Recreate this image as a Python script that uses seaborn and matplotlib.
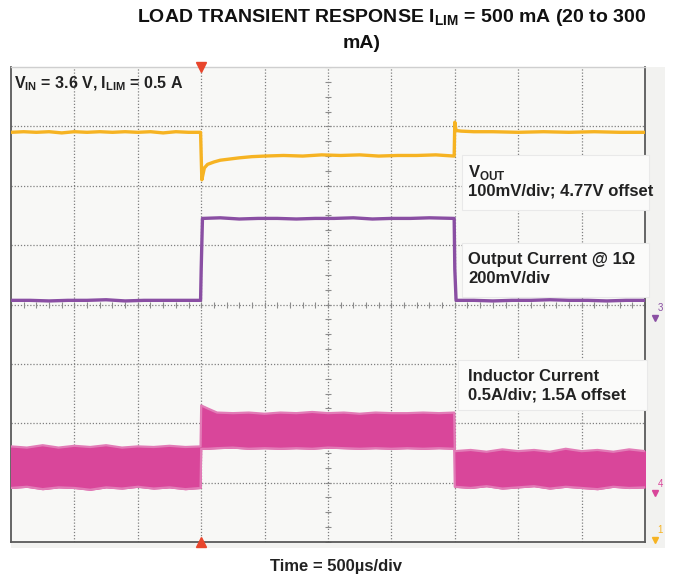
import numpy as np
import seaborn as sns
from matplotlib import pyplot as plt
from matplotlib.patches import Rectangle

sns.set_theme(style='white')
plt.rcParams['font.family'] = ['Liberation Sans', 'DejaVu Sans']
plt.rcParams['mathtext.fontset'] = 'custom'
plt.rcParams['mathtext.bf'] = 'Liberation Sans:bold'
plt.rcParams['mathtext.rm'] = 'Liberation Sans:bold'

# time axis in divisions (500 us/div), vertical in divisions
vout_x = [0, 0.2, 0.4, 0.6, 0.8, 1.0, 1.2, 1.4, 1.6, 1.8, 2.0, 2.2, 2.4, 2.6, 2.8, 2.99,
          3.01, 3.05, 3.1, 3.2, 3.3, 3.45, 3.6, 3.8, 4.0, 4.3, 4.6, 4.9, 5.2, 5.5, 5.8,
          6.1, 6.4, 6.7, 6.99, 7.0, 7.02, 7.1, 7.3, 7.6, 8.0, 8.4, 8.8, 9.2, 9.6, 10.0]
vout_y = [6.90, 6.91, 6.90, 6.91, 6.89, 6.91, 6.90, 6.91, 6.90, 6.91, 6.90, 6.91, 6.89, 6.91, 6.90, 6.90,
          6.10, 6.30, 6.36, 6.40, 6.43, 6.45, 6.47, 6.49, 6.50, 6.51, 6.50, 6.52, 6.51, 6.52, 6.50,
          6.51, 6.51, 6.52, 6.50, 7.07, 6.93, 6.92, 6.91, 6.91, 6.90, 6.91, 6.90, 6.91, 6.90, 6.90]

iout_x = [0, 0.3, 0.6, 0.9, 1.2, 1.5, 1.8, 2.1, 2.4, 2.7, 2.99, 3.0, 3.02, 3.3, 3.6, 3.9,
          4.2, 4.5, 4.8, 5.1, 5.4, 5.7, 6.0, 6.3, 6.6, 6.99, 7.0, 7.02, 7.3, 7.6, 7.9, 8.2,
          8.5, 8.8, 9.1, 9.4, 9.7, 10.0]
iout_y = [4.07, 4.07, 4.06, 4.07, 4.07, 4.08, 4.06, 4.07, 4.07, 4.07, 4.07, 4.60, 5.45, 5.46, 5.44, 5.45,
          5.45, 5.44, 5.45, 5.45, 5.46, 5.44, 5.45, 5.45, 5.46, 5.45, 4.60, 4.07, 4.07, 4.06, 4.07, 4.07,
          4.08, 4.07, 4.07, 4.06, 4.07, 4.07]

ind_x = [0, 0.25, 0.5, 0.75, 1.0, 1.25, 1.5, 1.75, 2.0, 2.25, 2.5, 2.75, 2.99,
         3.0, 3.1, 3.25, 3.5, 3.75, 4.0, 4.25, 4.5, 4.75, 5.0, 5.25, 5.5, 5.75, 6.0, 6.25, 6.5, 6.75, 6.99,
         7.0, 7.25, 7.5, 7.75, 8.0, 8.25, 8.5, 8.75, 9.0, 9.25, 9.5, 9.75, 10.0]
ind_hi = [1.61, 1.59, 1.63, 1.59, 1.62, 1.60, 1.63, 1.59, 1.61, 1.60, 1.62, 1.60, 1.61,
          2.30, 2.25, 2.18, 2.17, 2.18, 2.16, 2.18, 2.17, 2.19, 2.17, 2.18, 2.16, 2.18, 2.17, 2.17, 2.18, 2.17, 2.18,
          1.53, 1.55, 1.52, 1.56, 1.53, 1.55, 1.52, 1.57, 1.53, 1.55, 1.52, 1.56, 1.53]
ind_lo = [0.91, 0.93, 0.89, 0.92, 0.91, 0.88, 0.92, 0.90, 0.93, 0.90, 0.92, 0.89, 0.91,
          1.57, 1.57, 1.58, 1.59, 1.57, 1.58, 1.57, 1.58, 1.57, 1.59, 1.58, 1.57, 1.58, 1.57, 1.58, 1.57, 1.58, 1.57,
          0.93, 0.91, 0.94, 0.90, 0.92, 0.94, 0.90, 0.93, 0.91, 0.89, 0.93, 0.91, 0.92]

trigger_x = 3.0
yellow = '#f6b322'
purple = '#8a4fa3'
pink = '#d9469a'
bg = '#f8f8f6'

fig = plt.figure(figsize=(6.74, 5.79), dpi=100)
# light scope frame behind the screen
frame = fig.add_axes([11 / 674, 31 / 579, 654 / 674, 481 / 579])
frame.set_facecolor('#f2f2f0')
frame.set_xticks([])
frame.set_yticks([])
for s in frame.spines.values():
    s.set_visible(False)
frame.set_zorder(0)

ax = fig.add_axes([11 / 674, 37 / 579, 634 / 674, 475 / 579])
ax.set_zorder(1)
ax.set_facecolor(bg)
ax.set_xlim(0, 10)
ax.set_ylim(0, 8)
ax.set_xticks([])
ax.set_yticks([])
for s in ['left', 'bottom', 'right']:
    ax.spines[s].set_color('#5a5a5a')
    ax.spines[s].set_linewidth(1.3)
ax.spines['top'].set_color('#cfcfcf')
ax.spines['top'].set_linewidth(1.0)

# graticule
for gx in range(1, 10):
    ax.axvline(gx, color='#7f7f7f', lw=0.9, ls=(0, (1, 1.5)), zorder=1)
for gy in range(1, 8):
    ax.axhline(gy, color='#7f7f7f', lw=0.9, ls=(0, (1, 1.5)), zorder=1)
tx = np.arange(0, 10.01, 0.2)
ax.plot(tx, np.full_like(tx, 4.0), ls='none', marker='|', ms=5, mew=0.8, color='#8c8c8c', zorder=1)
ty = np.arange(0, 8.01, 0.25)
ax.plot(np.full_like(ty, 5.0), ty, ls='none', marker='_', ms=5, mew=0.8, color='#8c8c8c', zorder=1)

# annotation boxes
for (bx0, bx1, by0, by1) in [(7.11, 10.07, 5.59, 6.52), (7.11, 10.07, 4.12, 5.03), (7.05, 10.03, 2.22, 3.06)]:
    ax.add_patch(Rectangle((bx0, by0), bx1 - bx0, by1 - by0, facecolor='#fbfbfa',
                           edgecolor='#e9e9e9', lw=0.8, zorder=3, clip_on=False))

# traces
ax.fill_between(ind_x, ind_lo, ind_hi, color=pink, lw=0.8, zorder=4)
sns.lineplot(x=ind_x, y=ind_hi, color='#e27cb7', lw=1.6, ax=ax, zorder=4)
sns.lineplot(x=ind_x, y=ind_lo, color='#e27cb7', lw=1.6, ax=ax, zorder=4)
sns.lineplot(x=iout_x, y=iout_y, color=purple, lw=2.4, ax=ax, zorder=5)
sns.lineplot(x=vout_x, y=vout_y, color=yellow, lw=2.4, ax=ax, zorder=5)

# trigger markers
ax.plot([trigger_x], [8.0], marker='v', ms=7, color='#e8452c', clip_on=False, zorder=6)
ax.plot([trigger_x], [0.0], marker='^', ms=7, color='#e8452c', clip_on=False, zorder=6)

# channel markers on the right
for cy, cc, lab in [(3.86, purple, '3'), (0.9, pink, '4'), (0.12, yellow, '1')]:
    ax.plot([10.16], [cy - 0.08], marker='v', ms=5, color=cc, clip_on=False, zorder=6)
    ax.text(10.2, cy + 0.08, lab, color=cc, fontsize=7, ha='left', va='center', zorder=6)

# labels
txt = dict(fontsize=12, fontweight='bold', color='#222222', ha='left', va='center', zorder=7)
ax.text(0.05, 7.71, r'V$_{\mathbf{IN}}$ = 3.6 V, I$_{\mathbf{LIM}}$ = 0.5 A',
        **{**txt, 'fontsize': 11.5})
ax.text(7.21, 6.23, r'V$_{\mathbf{OUT}}$', **txt)
ax.text(7.21, 5.91, '100mV/div; 4.77V offset', **txt)
ax.text(7.21, 4.76, 'Output Current @ 1Ω', **txt)
ax.text(7.21, 4.44, '200mV/div', **txt)
ax.text(7.21, 2.79, 'Inductor Current', **txt)
ax.text(7.21, 2.47, '0.5A/div; 1.5A offset', **txt)

fig.text(392 / 674, 1 - 18 / 579, r'LOAD TRANSIENT RESPONSE I$_{\mathbf{LIM}}$ = 500 mA (20 to 300',
         fontsize=14, fontweight='bold', ha='center', va='center', color='#111111')
fig.text(362 / 674, 1 - 43 / 579, 'mA)', fontsize=14, fontweight='bold', ha='center', va='center',
         color='#111111')
fig.text(336 / 674, 1 - 566 / 579, 'Time = 500µs/div', fontsize=12, fontweight='bold',
         ha='center', va='center', color='#222222')

fig.savefig('out.png', dpi=100, facecolor='white')
plt.close()
